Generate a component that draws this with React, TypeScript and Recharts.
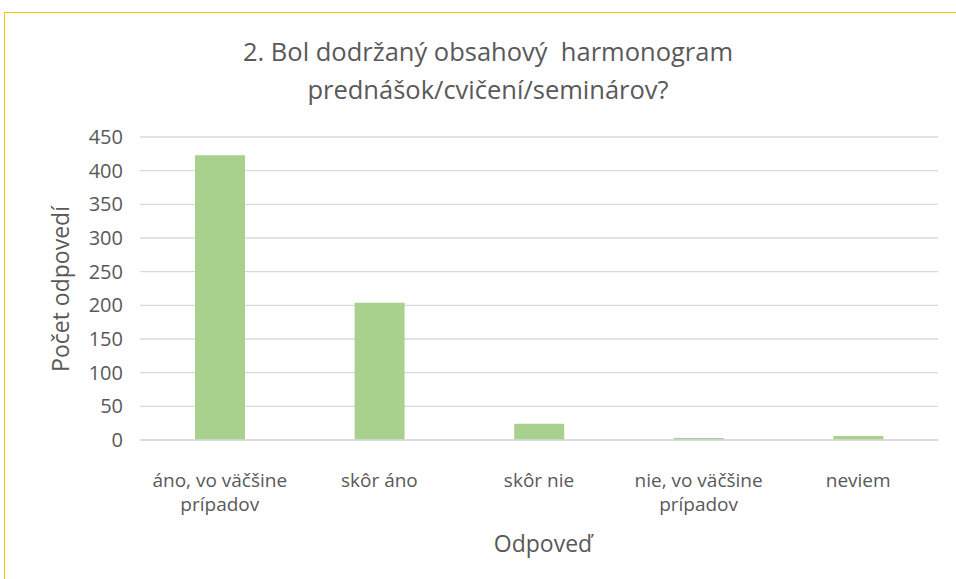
import { BarChart, Bar, XAxis, YAxis, CartesianGrid } from 'recharts';

const categories = ['áno, vo väčšine prípadov', 'skôr áno', 'skôr nie', 'nie, vo väčšine prípadov', 'neviem'];
const tickLines: string[][] = [['áno, vo väčšine', 'prípadov'], ['skôr áno'], ['skôr nie'], ['nie, vo väčšine', 'prípadov'], ['neviem']];
const counts = [423, 204, 24, 3, 6];
const yTicks = [0, 50, 100, 150, 200, 250, 300, 350, 400, 450];

const data = categories.map((name, i) => ({ name, value: counts[i] }));

const FONT = '"Open Sans", "Liberation Sans", sans-serif';
const GREY = '#595959';

// category labels wrap onto two lines like the original
const CategoryTick = (props: any) => {
    const { x, y, index } = props;
    const lines = tickLines[index] ?? [];
    return (
        <g>
            {lines.map((l, i) => (
                <text key={i} x={x} y={y + 39 + i * 24} textAnchor="middle" fill={GREY} fontSize={19} fontFamily={FONT}>
                    {l}
                </text>
            ))}
        </g>
    );
};

export default function App() {
    return (
        <div style={{ position: 'absolute', left: 0, top: 0, width: 956, height: 579, overflow: 'hidden', background: '#fff', fontFamily: FONT }}>
            <div style={{ position: 'absolute', left: 4, top: 12, width: 1000, height: 620, border: '1.5px solid #FFC000', boxSizing: 'border-box' }} />
            <BarChart
                width={956}
                height={579}
                data={data}
                margin={{ top: 137, right: 18, left: 70, bottom: 59 }}
                barSize={50}
            >
                <CartesianGrid vertical={false} stroke="#D9D9D9" strokeWidth={1.3} />
                <XAxis
                    dataKey="name"
                    height={80}
                    axisLine={{ stroke: '#D9D9D9', strokeWidth: 1.3 }}
                    tickLine={false}
                    interval={0}
                    tick={<CategoryTick />}
                />
                <YAxis
                    width={70}
                    domain={[0, 450]}
                    ticks={yTicks}
                    axisLine={false}
                    tickLine={false}
                    tick={{ fill: GREY, fontSize: 20, fontFamily: FONT }}
                    tickMargin={11}
                />
                <Bar dataKey="value" fill="#A9D18E" isAnimationActive={false} />
            </BarChart>
            <div style={{ position: 'absolute', left: 0, top: 32, width: 976, textAlign: 'center', fontSize: 25.5, lineHeight: '38px', color: GREY, whiteSpace: 'pre' }}>
                {'2. Bol dodržaný obsahový  harmonogram\nprednášok/cvičení/seminárov?'}
            </div>
            <div style={{ position: 'absolute', left: 60, top: 289, transform: 'translate(-50%, -50%) rotate(-90deg)', fontSize: 23, color: GREY, whiteSpace: 'nowrap' }}>
                Počet odpovedí
            </div>
            <div style={{ position: 'absolute', left: 543, top: 543, transform: 'translate(-50%, -50%)', fontSize: 23, color: GREY, whiteSpace: 'nowrap' }}>
                Odpoveď
            </div>
        </div>
    );
}
